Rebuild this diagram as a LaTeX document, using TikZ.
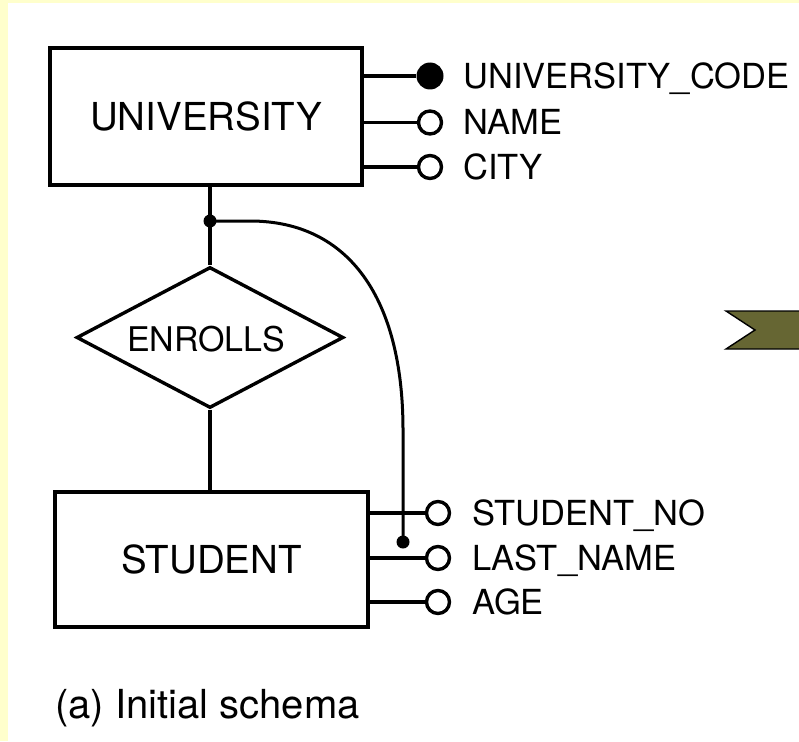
\documentclass[tikz,border=0pt]{standalone}
\usepackage{fontspec}
\setmainfont{TeX Gyre Heros}
\usetikzlibrary{shapes.geometric}
\definecolor{paper}{RGB}{255,255,204}
\definecolor{banner}{RGB}{102,102,51}
\begin{document}
\begin{tikzpicture}[x=1pt,y=-1pt,
  entity/.style={draw, line width=3.4pt, inner sep=0pt,
    font=\fontsize{38.5}{40}\selectfont},
  rel/.style={draw, diamond, line width=3.4pt, inner sep=0pt,
    minimum width=267pt, minimum height=141pt},
  reltext/.style={inner sep=0pt, font=\fontsize{34}{36}\selectfont},
  link/.style={line width=3.2pt},
  arcline/.style={line width=3pt},
  attr/.style={anchor=base west, inner sep=0pt,
    font=\fontsize{34.5}{36}\selectfont},
  keyattr/.style={circle, fill=black, minimum size=27pt, inner sep=0pt},
  optattr/.style={circle, draw, line width=3.4pt, fill=white,
    minimum size=23pt, inner sep=0pt},
  joint/.style={circle, fill=black, minimum size=13pt, inner sep=0pt}]

% page with its pale frame on the left and top
\useasboundingbox (0,0) rectangle (799,741);
\fill[white] (0,0) rectangle (799,741);
\fill[paper] (0,0) rectangle (799,3.5);
\fill[paper] (0,0) rectangle (7.5,741);

% entities and relationship
\node[entity, minimum width=312pt, minimum height=137pt] (univ) at (206,116.5) {UNIVERSITY};
\node[entity, minimum width=313pt, minimum height=135pt] (stud) at (211.5,559.5) {STUDENT};
\node[rel] (enr) at (210,337.5) {};
\node[reltext] (enrtext) at (206,339) {ENROLLS};

\draw[link] (enr.north |- univ.south) -- (enr.north);
\draw[link] (enr.south) -- (enr.south |- stud.north);

% attributes of UNIVERSITY
\node[keyattr] (ua1) at (430,76) {};
\node[optattr] (ua2) at (430,122.5) {};
\node[optattr] (ua3) at (430,167) {};
\draw[link] (univ.east |- ua1) -- (ua1);
\draw[link] (univ.east |- ua2) -- (ua2);
\draw[link] (univ.east |- ua3) -- (ua3);
\node[attr] (ut1) at (463,88.4) {UNIVERSITY\_CODE};
\node[attr] (ut2) at (463,134.9) {NAME};
\node[attr] (ut3) at (463,179.4) {CITY};

% attributes of STUDENT
\node[optattr] (sa1) at (438,513) {};
\node[optattr] (sa2) at (438,558) {};
\node[optattr] (sa3) at (438,602) {};
\draw[link] (stud.east |- sa1) -- (sa1);
\draw[link] (stud.east |- sa2) -- (sa2);
\draw[link] (stud.east |- sa3) -- (sa3);
\node[attr] (st1) at (472,525.4) {STUDENT\_NO};
\node[attr] (st2) at (472,570.4) {LAST\_NAME};
\node[attr] (st3) at (472,614.4) {AGE};

% composite identifier: UNIVERSITY via ENROLLS plus LAST_NAME
\node[joint] (j1) at (enr.north |- 0,221) {};
\node[joint] (j2) at (403,542) {};
\coordinate (bendA) at (250,221);
\coordinate (bendB) at (403,430);
\draw[arcline] (j1.center) -- (bendA)
  .. controls (350,221) and (403,300) .. (bendB) -- (j2.center);

% arrow banner at the right edge
\draw[fill=banner, line width=1.4pt, line join=miter]
  (726,311) -- (806,311) -- (806,349) -- (726,349) -- (755,330) -- cycle;

% caption
\node[anchor=base west, inner sep=0pt, font=\fontsize{40}{42}\selectfont]
  (cap) at (55,718) {(a) Initial schema};
\end{tikzpicture}
\end{document}
